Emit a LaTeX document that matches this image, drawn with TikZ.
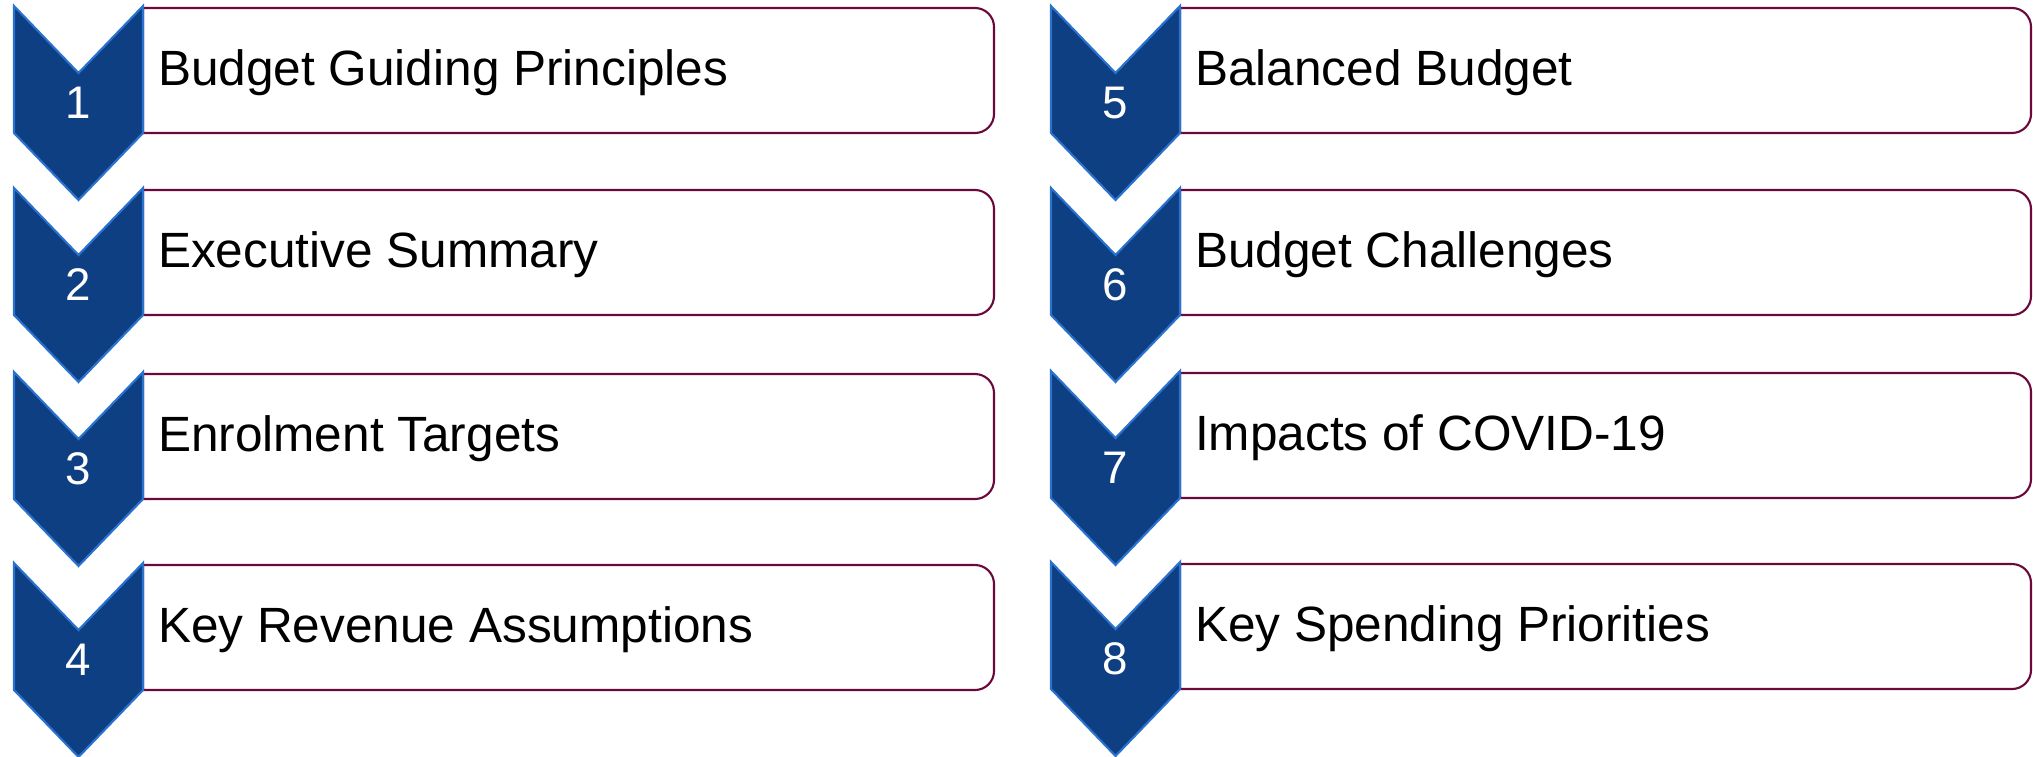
\documentclass[tikz,border=0pt]{standalone}
\usepackage{fontspec}
\setmainfont{Liberation Sans}
\definecolor{chevfill}{HTML}{0E3F82}
\definecolor{chevline}{HTML}{2A72D0}
\definecolor{boxline}{HTML}{6B0A3A}

\tikzset{
  pics/agenda_item/.style args={#1,#2,#3}{
     code={
        \filldraw[draw=boxline, fill=white] (1.29,-0.02) -- (9.61,-0.02) arc (90:0:0.19) -- (9.80,-1.08) arc (0:-90:0.19) -- (1.29,-1.27) -- cycle;
        \filldraw[draw=chevline, fill=chevfill] (0,0) -- (0.645,-0.67) -- (1.29,0) -- (1.29,-1.27) -- (0.645,-1.94) -- (0,-1.27) -- cycle;
        \node[text=white, font=\fontsize{13}{15}\selectfont] (#1num) at (0.645,-0.97) {#2};
        \node[anchor=west, inner sep=0pt, font=\fontsize{14.1}{17}\selectfont] (#1) at (1.43,-0.67) {#3};
     }
  }
}

\begin{document}
\begin{tikzpicture}[line width=0.6pt]
            \useasboundingbox (0,0) rectangle (20.33,-7.56);
            \draw (0.14,-0.06) pic{agenda_item={principles, 1, Budget Guiding Principles}};
            \draw (0.14,-1.88) pic{agenda_item={summary, 2, Executive Summary}};
            \draw (0.14,-3.72) pic{agenda_item={enrolment, 3, Enrolment Targets}};
            \draw (0.14,-5.63) pic{agenda_item={revenue, 4, Key Revenue Assumptions}};
            \draw (10.51,-0.06) pic{agenda_item={balanced, 5, Balanced Budget}};
            \draw (10.51,-1.88) pic{agenda_item={challenges, 6, Budget Challenges}};
            \draw (10.51,-3.71) pic{agenda_item={covid, 7, Impacts of COVID-19}};
            \draw (10.51,-5.62) pic{agenda_item={spending, 8, Key Spending Priorities}};
        \end{tikzpicture}
\end{document}
